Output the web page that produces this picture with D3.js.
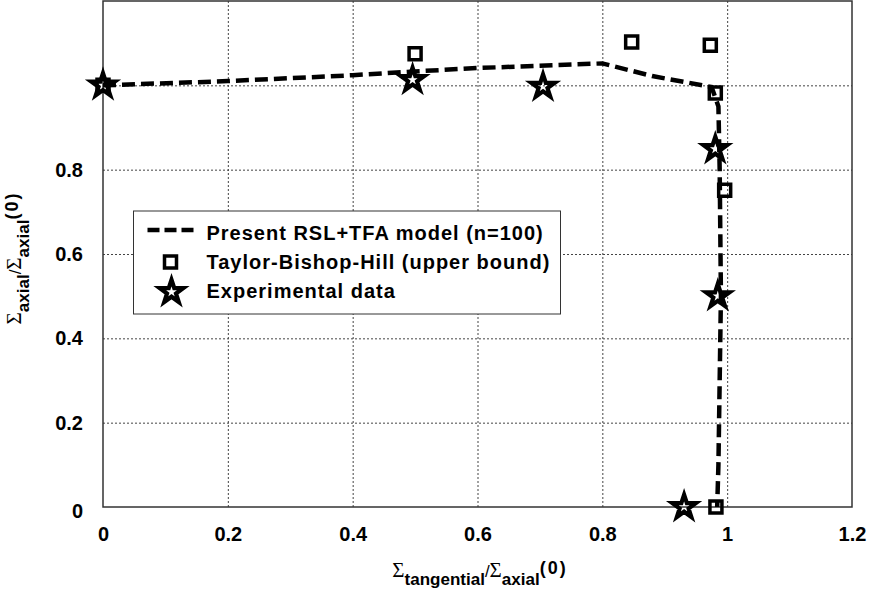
<!DOCTYPE html>
<html>
<head>
<meta charset="utf-8">
<script src="https://cdn.jsdelivr.net/npm/d3@7"></script>
<style>
  body { margin: 0; background: #fff; }
  .tick text { font-family: "Liberation Sans", Arial, sans-serif; font-weight: bold; font-size: 20px; fill: #000; }
  .grid line { stroke: #444; stroke-width: 1; stroke-dasharray: 2,2; }
  .grid path, .axis path { display: none; }
  .sig { font-family: "Liberation Serif", "Times New Roman", serif; font-weight: normal; }
</style>
</head>
<body>
<script>
// tick values and labels
var xTicks = [0, 0.2, 0.4, 0.6, 0.8, 1, 1.2];
var xTickLabels = ["0", "0.2", "0.4", "0.6", "0.8", "1", "1.2"];
var yTicks = [0, 0.2, 0.4, 0.6, 0.8];
var yTickLabels = ["0", "0.2", "0.4", "0.6", "0.8"];
var xGrid = [0.2, 0.4, 0.6, 0.8, 1.0];
var yGrid = [0.2, 0.4, 0.6, 0.8, 1.0];

// Present RSL+TFA model (n=100)
var modelX = [0, 0.2, 0.4, 0.5, 0.6, 0.8, 0.88, 0.975, 0.986, 0.988, 0.99, 0.986, 0.984];
var modelY = [1.0, 1.01, 1.024, 1.033, 1.041, 1.052, 1.022, 0.996, 0.95, 0.8, 0.5, 0.1, 0];

// Taylor-Bishop-Hill (upper bound)
var tbhX = [0, 0.5, 0.847, 0.973, 0.981, 0.996, 0.982];
var tbhY = [1.0, 1.075, 1.103, 1.095, 0.982, 0.751, 0.0];

// Experimental data
var expX = [0, 0.496, 0.705, 0.981, 0.985, 0.931];
var expY = [1.0, 1.013, 0.997, 0.849, 0.5, 0.0];

var legendLabels = ["Present RSL+TFA model (n=100)", "Taylor-Bishop-Hill (upper bound)", "Experimental data"];

var margin = {top: 1, right: 19, bottom: 85, left: 103}
  , width = 871 - margin.left - margin.right
  , height = 592 - margin.top - margin.bottom;

var xScale = d3.scaleLinear().domain([0, 1.2]).range([0, width]);
var yScale = d3.scaleLinear().domain([0, 1.2]).range([height, 0]);

var svg = d3.select("body").append("svg")
    .attr("width", 871)
    .attr("height", 592)
  .append("g")
    .attr("transform", "translate(" + margin.left + "," + margin.top + ")");

// grid
svg.append("g")
    .attr("class", "grid")
    .attr("transform", "translate(0," + height + ")")
    .call(d3.axisBottom(xScale).tickValues(xGrid).tickSize(-height).tickFormat(""));
svg.append("g")
    .attr("class", "grid")
    .call(d3.axisLeft(yScale).tickValues(yGrid).tickSize(-width).tickFormat(""));

// axes labels
svg.append("g")
    .attr("class", "axis")
    .attr("transform", "translate(0," + height + ")")
    .call(d3.axisBottom(xScale).tickValues(xTicks).tickSize(0).tickPadding(20)
          .tickFormat(function(d, i) { return xTickLabels[i]; }));
var yAx = svg.append("g")
    .attr("class", "axis")
    .call(d3.axisLeft(yScale).tickValues(yTicks).tickSize(0).tickPadding(20)
          .tickFormat(function(d, i) { return yTickLabels[i]; }));
// the 0 label sits a little low in the original
yAx.selectAll(".tick text").filter(function(d) { return d === 0; }).attr("dy", "0.5em");

// plot frame
svg.append("rect")
    .attr("width", width)
    .attr("height", height)
    .attr("fill", "none")
    .attr("stroke", "#333")
    .attr("stroke-width", 1.5);

var model = modelX.map(function(x, i) { return [x, modelY[i]]; });
var tbh = tbhX.map(function(x, i) { return [x, tbhY[i]]; });
var exp = expX.map(function(x, i) { return [x, expY[i]]; });

var line = d3.line()
    .x(function(d) { return xScale(d[0]); })
    .y(function(d) { return yScale(d[1]); });

svg.append("path")
    .datum(model)
    .attr("d", line)
    .attr("fill", "none")
    .attr("stroke", "#000")
    .attr("stroke-width", 4.5)
    .attr("stroke-dasharray", "13,6");

var square = d3.symbol().type(d3.symbolSquare).size(144);
var star = d3.symbol().type(d3.symbolStar).size(170);

svg.selectAll(".sq")
    .data(tbh)
  .enter().append("path")
    .attr("class", "sq")
    .attr("d", square)
    .attr("transform", function(d) { return "translate(" + xScale(d[0]) + "," + yScale(d[1]) + ")"; })
    .attr("fill", "none")
    .attr("stroke", "#000")
    .attr("stroke-width", 3.5);

svg.selectAll(".star")
    .data(exp)
  .enter().append("path")
    .attr("class", "star")
    .attr("d", star)
    .attr("transform", function(d) { return "translate(" + xScale(d[0]) + "," + yScale(d[1]) + ")"; })
    .attr("fill", "none")
    .attr("stroke", "#000")
    .attr("stroke-width", 4.2)
    .attr("stroke-linejoin", "miter");

// legend
var lg = svg.append("g").attr("transform", "translate(" + (133.5 - margin.left) + "," + (211 - margin.top) + ")");
lg.append("rect")
    .attr("width", 427)
    .attr("height", 103)
    .attr("fill", "#fff")
    .attr("stroke", "#333")
    .attr("stroke-width", 1);
lg.append("line")
    .attr("x1", 14).attr("x2", 60).attr("y1", 19).attr("y2", 19)
    .attr("stroke", "#000").attr("stroke-width", 4.5).attr("stroke-dasharray", "12,5");
lg.append("path")
    .attr("d", square)
    .attr("transform", "translate(37,51)")
    .attr("fill", "none").attr("stroke", "#000").attr("stroke-width", 3.5);
lg.append("path")
    .attr("d", star)
    .attr("transform", "translate(38,81)")
    .attr("fill", "none").attr("stroke", "#000").attr("stroke-width", 4.2);
lg.selectAll(".lt")
    .data(legendLabels)
  .enter().append("text")
    .attr("class", "lt")
    .attr("x", 73)
    .attr("y", function(d, i) { return 29 + i * 29; })
    .style("font-family", "'Liberation Sans', Arial, sans-serif")
    .style("font-weight", "bold")
    .style("font-size", "20px")
    .style("letter-spacing", "1px")
    .text(function(d) { return d; });

// axis titles
function title(g, sub1, sub2) {
  var t = g.append("text")
      .attr("text-anchor", "middle")
      .style("font-family", "'Liberation Sans', Arial, sans-serif")
      .style("font-weight", "bold")
      .style("font-size", "17px");
  t.append("tspan").attr("class", "sig").style("font-size", "21px").text("\u03A3");
  t.append("tspan").attr("dy", 8).text(sub1);
  t.append("tspan").attr("dy", -8).style("font-weight", "normal").text("/");
  t.append("tspan").attr("class", "sig").style("font-size", "21px").text("\u03A3");
  t.append("tspan").attr("dy", 8).text(sub2);
  t.append("tspan").attr("dy", -11).style("font-size", "18px").style("letter-spacing", "2px").text("(0)");
  return t;
}

var xt = svg.append("g").attr("transform", "translate(" + (480 - margin.left) + "," + (577 - margin.top) + ")");
title(xt, "tangential", "axial");

var yt = svg.append("g").attr("transform", "translate(" + (21 - margin.left) + "," + (258 - margin.top) + ") rotate(-90)");
title(yt, "axial", "axial");
</script>
</body>
</html>
